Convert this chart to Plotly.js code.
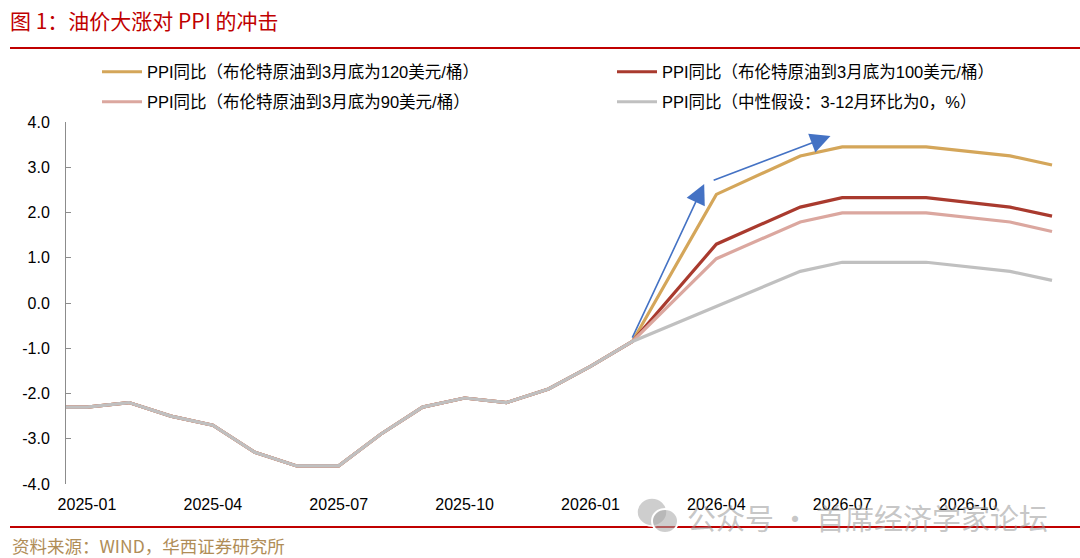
<!DOCTYPE html>
<html>
<head>
<meta charset="utf-8">
<script src="https://cdn.plot.ly/plotly-3.0.1.min.js"></script>
<style>html,body{margin:0;padding:0;background:#fff;}#chart{width:1080px;height:558px;}</style>
</head>
<body>
<div id="chart"></div>
<script>
// ---- data ----
const months = ["2024-12","2025-01","2025-02","2025-03","2025-04","2025-05","2025-06","2025-07","2025-08","2025-09","2025-10","2025-11","2025-12","2026-01","2026-02","2026-03","2026-04","2026-05","2026-06","2026-07","2026-08","2026-09","2026-10","2026-11","2026-12"];
const history = [-2.3,-2.3,-2.2,-2.5,-2.7,-3.3,-3.6,-3.6,-2.9,-2.3,-2.1,-2.2,-1.9,-1.4,-0.85];
// 2026-03 .. 2026-12 (null = no visible vertex, line joins neighbours)
const oil120 = [null,2.4,null,3.25,3.45,3.45,3.45,null,3.25,3.05];
const oil100 = [null,1.3,null,2.12,2.33,2.33,2.33,null,2.12,1.92];
const oil90  = [null,0.98,null,1.79,1.99,1.99,1.99,null,1.79,1.58];
const neutral = [null,null,null,0.7,0.9,0.9,0.9,null,0.7,0.5];
const seriesNames = [
  "PPI同比（布伦特原油到3月底为120美元/桶）",
  "PPI同比（布伦特原油到3月底为100美元/桶）",
  "PPI同比（布伦特原油到3月底为90美元/桶）",
  "PPI同比（中性假设：3-12月环比为0，%）"
];
const xTickVals = ["2025-01","2025-04","2025-07","2025-10","2026-01","2026-04","2026-07","2026-10"];
const yTickVals = [-4,-3,-2,-1,0,1,2,3,4];
const yTickText = ["-4.0","-3.0","-2.0","-1.0","0.0","1.0","2.0","3.0","4.0"];

// ---- styles ----
const colors = ["#D4A65A","#A93A2E","#DBA79F","#C0C0C0"];
const txtFont = "Liberation Sans, Arial, Noto Sans CJK SC, sans-serif";
const cjkFont = "Noto Sans CJK SC, sans-serif";
const legendIds = ["legend","legend2","legend3","legend4"];
const legendPos = [[97,72],[612,72],[97,102],[612,102]];

const series = [oil120, oil100, oil90, neutral];
const traces = series.map((s, i) => ({
  type: "scatter",
  mode: "lines",
  x: months,
  y: history.concat(s),
  name: seriesNames[i],
  connectgaps: true,
  line: {color: colors[i], width: 3.2},
  legend: legendIds[i],
  hoverinfo: "skip"
}));

// pixel helpers for paper coordinates (plot area 66..1073 x, 122..484 y)
const L = 66, R = 7, T = 122, B = 74, W = 1080, H = 558;
const pw = W - L - R, ph = H - T - B;
const px = v => (v - L) / pw;
const py = v => (H - B - v) / ph;

const tickBounds = [];
for (let k = 0; k <= 8; k++) tickBounds.push(0.5 + 3 * k);

const wmFill = "rgba(165,165,165,0.55)";
const layout = {
  width: W, height: H,
  margin: {l: L, r: R, t: T, b: B, pad: 0, autoexpand: false},
  paper_bgcolor: "#fff", plot_bgcolor: "#fff",
  showlegend: true,
  title: {
    text: "图 1：油价大涨对 PPI 的冲击",
    xref: "container", yref: "container",
    x: 10 / W, xanchor: "left",
    y: 1 - 22 / H, yanchor: "middle",
    font: {family: cjkFont, size: 21, color: "#C00000"}
  },
  xaxis: {
    type: "category",
    categoryorder: "array", categoryarray: months,
    range: [0.5, 24.5],
    tickmode: "array", tickvals: xTickVals, ticktext: xTickVals,
    showline: false, showgrid: false, zeroline: false,
    ticks: "",
    ticklabelstandoff: 9,
    tickfont: {family: txtFont, size: 16, color: "#000"},
    fixedrange: true
  },
  xaxis2: {
    type: "linear",
    overlaying: "x",
    anchor: "free", position: 0.5,
    range: [0.5, 24.5],
    tickmode: "array", tickvals: tickBounds,
    showticklabels: false,
    ticks: "outside", ticklen: 5, tickwidth: 1, tickcolor: "#8C8C8C",
    showline: true, linecolor: "#8C8C8C", linewidth: 1,
    showgrid: false, zeroline: false,
    fixedrange: true
  },
  yaxis: {
    range: [-4, 4],
    tickmode: "array", tickvals: yTickVals, ticktext: yTickText,
    ticks: "inside", ticklen: 5, tickwidth: 1, tickcolor: "#8C8C8C",
    showline: true, linecolor: "#8C8C8C", linewidth: 1,
    showgrid: false, zeroline: false,
    ticklabelstandoff: 12,
    tickfont: {family: txtFont, size: 16, color: "#000"},
    fixedrange: true
  },
  shapes: [
    {type: "line", xref: "paper", yref: "paper", x0: px(10), x1: px(1080), y0: py(48), y1: py(48),
     line: {color: "#C00000", width: 2}},
    {type: "line", xref: "paper", yref: "paper", x0: px(10), x1: px(1080), y0: py(527), y1: py(527),
     line: {color: "#C00000", width: 2}},
    // watermark icon (two speech bubbles)
    {type: "circle", xref: "paper", yref: "paper", x0: px(637), x1: px(667), y0: py(498), y1: py(526),
     fillcolor: wmFill, line: {color: "#fff", width: 1.5}, layer: "above"},
    {type: "circle", xref: "paper", yref: "paper", x0: px(652), x1: px(678), y0: py(509), y1: py(533),
     fillcolor: wmFill, line: {color: "#fff", width: 2}, layer: "above"}
  ],
  annotations: [
    {xref: "x", yref: "y", axref: "x", ayref: "y",
     x: 15.71, y: 2.63, ax: 13.98, ay: -0.8,
     showarrow: true, arrowhead: 2, arrowsize: 2.5, arrowwidth: 1.6, arrowcolor: "#4472C4",
     standoff: 0, startstandoff: 0, text: ""},
    {xref: "x", yref: "y", axref: "x", ayref: "y",
     x: 18.72, y: 3.69, ax: 15.9, ay: 2.7,
     showarrow: true, arrowhead: 2, arrowsize: 2.5, arrowwidth: 1.6, arrowcolor: "#4472C4",
     standoff: 0, startstandoff: 0, text: ""},
    {xref: "paper", yref: "paper", x: px(10), y: py(545), xanchor: "left", yanchor: "middle",
     showarrow: false, text: "资料来源：WIND，华西证券研究所",
     font: {family: cjkFont, size: 17.5, color: "#B08D57"}},
    {xref: "paper", yref: "paper", x: px(685), y: py(517), xanchor: "left", yanchor: "middle",
     showarrow: false, text: "公众号 · 首席经济学家论坛",
     font: {family: cjkFont, size: 29, color: "rgba(150,150,150,0.55)"}}
  ]
};

legendIds.forEach((id, i) => {
  layout[id] = {
    orientation: "h",
    xref: "container", yref: "container",
    x: legendPos[i][0] / W, y: 1 - legendPos[i][1] / H,
    xanchor: "left", yanchor: "middle",
    font: {family: txtFont, size: 16.5, color: "#000"},
    bgcolor: "rgba(0,0,0,0)",
    itemwidth: 40
  };
});

Plotly.newPlot("chart", traces, layout, {staticPlot: true, displayModeBar: false});
</script>
</body>
</html>
